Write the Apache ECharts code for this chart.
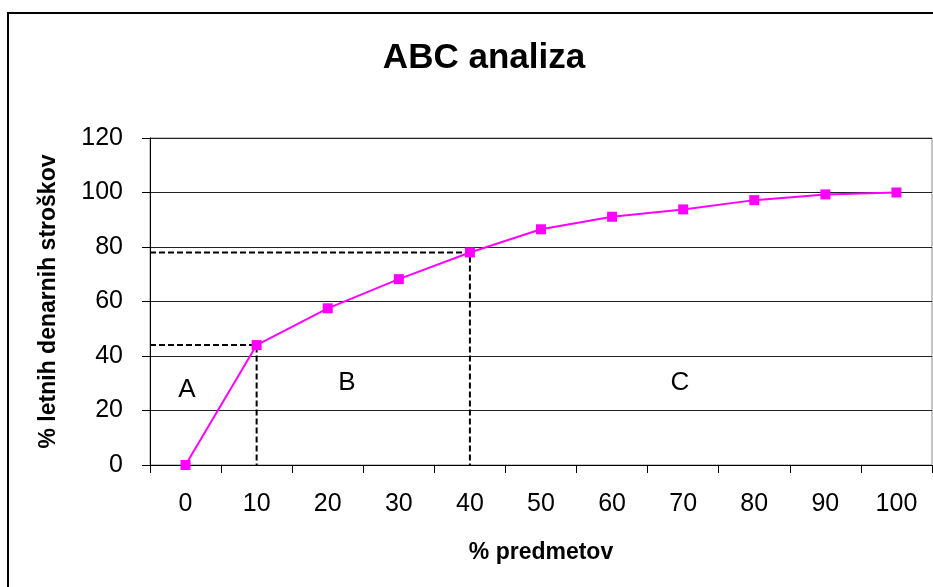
<!DOCTYPE html>
<html>
<head>
<meta charset="utf-8">
<script src="https://cdn.jsdelivr.net/npm/echarts@6/dist/echarts.min.js"></script>
<style>
  html, body { margin: 0; padding: 0; background: #fff; }
  #chart { width: 933px; height: 587px; }
</style>
</head>
<body>
<div id="chart"></div>
<script>
// podatki
var categories = ['0', '10', '20', '30', '40', '50', '60', '70', '80', '90', '100'];
var costShare = [0, 44, 57.5, 68.2, 78, 86.5, 91.1, 93.8, 97.2, 99.3, 100];
var yMin = 0, yMax = 120, yStep = 20;
// meje med skupinami A/B in B/C (indeks kategorije)
var zoneCuts = [1, 4];
var zoneNames = ['A', 'B', 'C'];

var font = 'Liberation Sans, Arial, sans-serif';

// crtkane crte do meje
var cutSeries = zoneCuts.map(function (i) {
    var v = costShare[i];
    return {
        type: 'line',
        xAxisIndex: 1,
        data: [[-0.5, v], [i, v], [i, yMin]],
        symbol: 'none',
        silent: true,
        z: 1,
        lineStyle: { color: '#000', width: 2, type: [6, 3] }
    };
});

var zonePos = [[187, 390], [347, 383], [680, 383]];

var option = {
    animation: false,
    title: {
        text: 'ABC analiza',
        left: 479,
        textAlign: 'center',
        top: 36,
        textStyle: { fontFamily: font, fontSize: 35, fontWeight: 'bold', color: '#000' }
    },
    grid: { left: 150, right: 1, top: 138, bottom: 122, show: true, borderColor: '#888', borderWidth: 1 },
    xAxis: [{
        type: 'category',
        data: categories,
        boundaryGap: true,
        name: '% predmetov',
        nameLocation: 'middle',
        nameGap: 76,
        nameTextStyle: { fontFamily: font, fontSize: 23, fontWeight: 'bold', color: '#000' },
        axisLine: { lineStyle: { color: '#000', width: 1 } },
        axisTick: { show: true, length: 8, lineStyle: { color: '#000' } },
        axisLabel: { fontFamily: font, fontSize: 25, color: '#000', margin: 27 }
    }, {
        type: 'value',
        min: -0.5,
        max: 10.5,
        show: false
    }],
    yAxis: {
        type: 'value',
        min: yMin,
        max: yMax,
        interval: yStep,
        name: '% letnih denarnih stroškov',
        nameLocation: 'middle',
        nameGap: 90,
        nameTextStyle: { fontFamily: font, fontSize: 23, fontWeight: 'bold', color: '#000' },
        axisLine: { show: true, onZero: false, lineStyle: { color: '#000', width: 1 } },
        axisTick: { show: true, length: 8, lineStyle: { color: '#000' } },
        axisLabel: { fontFamily: font, fontSize: 25, color: '#000', margin: 27 },
        splitLine: { show: true, lineStyle: { color: '#222', width: 1 } }
    },
    series: cutSeries.concat([{
        type: 'line',
        data: costShare,
        symbol: 'rect',
        symbolSize: 10,
        z: 3,
        lineStyle: { color: '#ff00ff', width: 2 },
        itemStyle: { color: '#ff00ff' }
    }]),
    graphic: [{
        type: 'rect',
        shape: { x: 8, y: 13, width: 1000, height: 700 },
        style: { fill: 'none', stroke: '#000', lineWidth: 2 },
        silent: true
    }].concat(zoneNames.map(function (n, k) {
        return {
            type: 'text',
            x: zonePos[k][0],
            y: zonePos[k][1],
            style: { text: n, font: '26px ' + font, fill: '#000', textAlign: 'center', textVerticalAlign: 'middle' },
            silent: true
        };
    }))
};

var chart = echarts.init(document.getElementById('chart'));
chart.setOption(option);
</script>
</body>
</html>
